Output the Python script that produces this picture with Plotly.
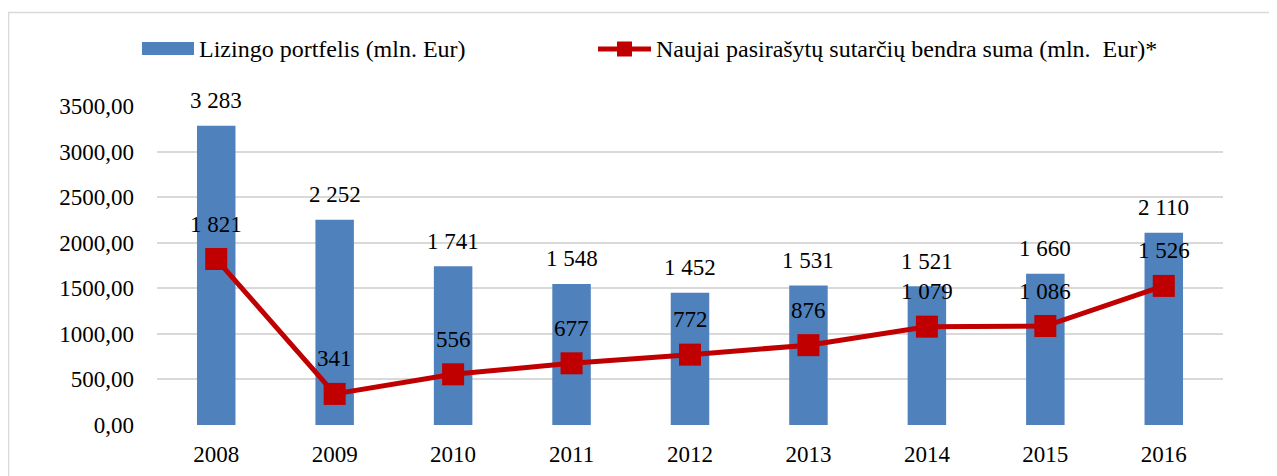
import plotly.graph_objects as go

years = ["2008", "2009", "2010", "2011", "2012", "2013", "2014", "2015", "2016"]
portfolio = [3283, 2252, 1741, 1548, 1452, 1531, 1521, 1660, 2110]
new_contracts = [1821, 341, 556, 677, 772, 876, 1079, 1086, 1526]
y_ticks = [0, 500, 1000, 1500, 2000, 2500, 3000, 3500]

name_bar = "Lizingo portfelis (mln. Eur)"
name_line = "Naujai pasirašytų sutarčių bendra suma (mln.  Eur)*"

FONT = "Liberation Serif, Times New Roman, Times, serif"
BLUE = "#4F81BD"
RED = "#C00000"
GRID = "#D9D9D9"


def fmt_int(v):
    return f"{v:,}".replace(",", " ")


def fmt_tick(v):
    return f"{v:.2f}".replace(".", ",")


fig = go.Figure()
fig.add_trace(go.Bar(
    x=years, y=portfolio, name=name_bar,
    marker=dict(color=BLUE, line=dict(width=0)),
))
fig.add_trace(go.Scatter(
    x=years, y=new_contracts, name=name_line, mode="lines+markers",
    line=dict(color=RED, width=5),
    marker=dict(symbol="square", size=22, color=RED),
))

annotations = []
for i, v in enumerate(portfolio):
    annotations.append(dict(x=i, y=v, xref="x", yref="y", text=fmt_int(v),
                            showarrow=False, yanchor="middle", yshift=25,
                            font=dict(family=FONT, size=23, color="black")))
for i, v in enumerate(new_contracts):
    annotations.append(dict(x=i, y=v, xref="x", yref="y", text=fmt_int(v),
                            showarrow=False, yanchor="middle", yshift=35,
                            font=dict(family=FONT, size=23, color="black")))

# page offset (body margin) of 8px
OFF = 8
W, H = 1277 - OFF, 476 - OFF
# plot area in page pixels: x 157..1223, y 106..425
L = 157 - OFF
T = 106 - OFF
R = W - (1223 - OFF)
B = H - (425 - OFF)
pw, ph = W - L - R, H - T - B


def px_x(p):
    return (p - OFF - L) / pw


def px_y(p):
    return (H - B - (p - OFF)) / ph


shapes = [
    # outer chart border
    dict(type="rect", xref="paper", yref="paper",
         x0=px_x(8.5), x1=px_x(1300), y0=px_y(500), y1=px_y(12.5),
         line=dict(color=GRID, width=1.5), fillcolor="rgba(0,0,0,0)", layer="below"),
    # legend: bar patch
    dict(type="rect", xref="paper", yref="paper",
         x0=px_x(142), x1=px_x(194), y0=px_y(55), y1=px_y(42),
         line=dict(width=0), fillcolor=BLUE),
    # legend: line
    dict(type="line", xref="paper", yref="paper",
         x0=px_x(598), x1=px_x(651), y0=px_y(49), y1=px_y(49),
         line=dict(color=RED, width=5)),
    # legend: marker
    dict(type="rect", xref="paper", yref="paper",
         x0=px_x(617), x1=px_x(632), y0=px_y(56.5), y1=px_y(41.5),
         line=dict(width=0), fillcolor=RED),
]

annotations += [
    dict(xref="paper", yref="paper", x=px_x(197), y=px_y(49), text=name_bar,
         xanchor="left", yanchor="middle", showarrow=False,
         font=dict(family=FONT, size=24, color="black")),
    dict(xref="paper", yref="paper", x=px_x(654), y=px_y(49), text=name_line,
         xanchor="left", yanchor="middle", showarrow=False,
         font=dict(family=FONT, size=24, color="black")),
]

fig.update_layout(
    width=W, height=H,
    margin=dict(l=L, r=R, t=T, b=B, pad=0, autoexpand=False),
    paper_bgcolor="white", plot_bgcolor="white",
    font=dict(family=FONT, size=23, color="black"),
    bargap=0.675,
    showlegend=False,
    annotations=annotations,
    shapes=shapes,
    xaxis=dict(type="category", categoryorder="array", categoryarray=years,
               range=[-0.5, len(years) - 0.5],
               showgrid=False, zeroline=False, showline=False,
               ticks="", tickfont=dict(family=FONT, size=23), ticklabelstandoff=13,
               automargin=False),
    yaxis=dict(range=[0, 3500], tickvals=y_ticks, ticktext=[fmt_tick(v) for v in y_ticks],
               showgrid=True, gridcolor=GRID, gridwidth=1.5,
               zeroline=False, showline=False, ticks="",
               tickfont=dict(family=FONT, size=23), ticklabelstandoff=22,
               automargin=False),
)

fig.write_html("out.html")
